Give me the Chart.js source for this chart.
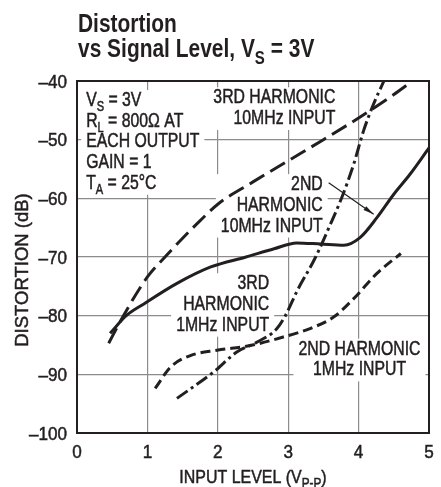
<!DOCTYPE html>
<html>
<head>
<meta charset="utf-8">
<script src="https://cdn.jsdelivr.net/npm/chart.js@4/dist/chart.umd.min.js"></script>
<style>
  html, body { margin: 0; padding: 0; background: #fff; }
  #wrap { width: 441px; height: 487px; }
</style>
</head>
<body>
<div id="wrap"><canvas id="myChart" width="441" height="487"></canvas></div>
<script>
// values: input level (Vp-p) vs distortion (dB)
const hd3_10M_x = [0.45, 0.66, 1, 1.25, 1.5, 1.75, 2, 2.5, 3, 3.5, 4, 4.5, 4.73];
const hd3_10M_y = [-84.7, -80, -73.4, -70, -66.8, -63.8, -61, -57.2, -53.6, -50, -46.3, -42.3, -40.3];

const hd2_10M_x = [0.47, 0.7, 0.95, 1.42, 1.9, 2.4, 2.8, 3.12, 3.46, 3.79, 4.02, 4.26, 4.5, 4.73, 5];
const hd2_10M_y = [-83, -80, -78, -74.5, -71.7, -70, -68.6, -67.6, -67.8, -68, -66.7, -63.3, -59.3, -55.9, -51.4];

const hd3_1M_x = [1.42, 1.94, 2.27, 2.56, 2.84, 2.96, 3.13, 3.39, 3.6, 3.76, 3.93, 4.07, 4.21, 4.36];
const hd3_1M_y = [-94.1, -89.6, -86.2, -84.5, -82.2, -80, -75.7, -70, -64.4, -59.9, -54.2, -48.5, -44, -40];

const hd2_1M_x = [1.11, 1.33, 1.61, 1.99, 2.46, 2.94, 3.31, 3.65, 3.93, 4.26, 4.6];
const hd2_1M_y = [-92.4, -88.75, -86.8, -85.9, -85.1, -83.6, -82.2, -80.2, -77.1, -72.8, -69.4];

const xTicks = [0, 1, 2, 3, 4, 5];
const yTicks = [-100, -90, -80, -70, -60, -50, -40];

function pts(xs, ys){
  let out = [];
  for (let i = 0; i < xs.length; i++) out.push({x: xs[i], y: ys[i]});
  return out;
}

const FONT = '"Liberation Sans", Arial, sans-serif';
const ink = '#231f20';

// text made of runs: [text, isSubscript]; sx squeezes it like a condensed face
function measureRuns(ctx, parts, o){
  const b = o.bold ? 'bold ' : '';
  let w = 0;
  for (const p of parts){
    ctx.font = b + (p[1] ? Math.round(o.size*0.72) : o.size) + 'px ' + FONT;
    w += ctx.measureText(p[0]).width;
  }
  return w * o.sx;
}
function drawRuns(ctx, parts, x, y, o){
  const b = o.bold ? 'bold ' : '';
  const w = measureRuns(ctx, parts, o);
  let start = x;
  if (o.align === 'right') start = x - w;
  if (o.align === 'center') start = x - w/2;
  ctx.save();
  ctx.translate(start, y);
  ctx.scale(o.sx, 1);
  ctx.textAlign = 'left';
  ctx.textBaseline = 'alphabetic';
  ctx.fillStyle = ink;
  ctx.strokeStyle = ink;
  ctx.lineWidth = 0.5;
  let cx = 0;
  for (const p of parts){
    ctx.font = b + (p[1] ? Math.round(o.size*0.72) : o.size) + 'px ' + FONT;
    const yy = p[1] ? o.size*0.26 : 0;
    ctx.fillText(p[0], cx, yy);
    if (!o.bold) ctx.strokeText(p[0], cx, yy); // a touch heavier, like the print
    cx += ctx.measureText(p[0]).width;
  }
  ctx.restore();
  return {left: start, width: w};
}

// annotation blocks, anchored in data coordinates (first baseline)
const notes = [
  {x: 0.13, y: -44.26, align: 'left', lines: [
    [['V'], ['S', 1], [' = 3V']],
    [['R'], ['L', 1], [' = 800Ω AT']],
    [['EACH OUTPUT']],
    [['GAIN = 1']],
    [['T'], ['A', 1], [' = 25°C']]
  ]},
  {x: 3.67, y: -43.8, align: 'right', lines: [[['3RD HARMONIC']], [['10MHz INPUT']]]},
  {x: 3.49, y: -58.6, align: 'right', lines: [[['2ND']], [['HARMONIC']], [['10MHz INPUT']]]},
  {x: 2.73, y: -75.5, align: 'right', lines: [[['3RD']], [['HARMONIC']], [['1MHz INPUT']]]},
  {x: 4.013, y: -86.65, align: 'center', lines: [[['2ND HARMONIC']], [['1MHz INPUT']]]}
];
const arrowFrom = {x: 3.575, y: -57.33};
const arrowTo = {x: 4.214, y: -62.72};

const noteStyle = {size: 20, sx: 0.79, align: 'left'};
const lineH = 20.7;

const textPlugin = {
  id: 'textPlugin',
  beforeDatasetsDraw(chart){
    const ctx = chart.ctx;
    const xs = chart.scales.x, ys = chart.scales.y;
    const a = chart.chartArea;
    ctx.save();
    // white boxes hide the grid behind each text block
    for (const n of notes){
      const px = xs.getPixelForValue(n.x);
      const py = ys.getPixelForValue(n.y);
      const o = Object.assign({}, noteStyle, {align: n.align});
      let l = 1e9, r = -1e9;
      n.lines.forEach(ln => {
        const w = measureRuns(ctx, ln, o);
        let s = px;
        if (n.align === 'right') s = px - w;
        if (n.align === 'center') s = px - w/2;
        l = Math.min(l, s); r = Math.max(r, s + w);
      });
      ctx.fillStyle = '#fff';
      ctx.fillRect(l - 5, py - 16, r - l + 10, (n.lines.length - 1)*lineH + 22);
      n.lines.forEach((ln, i) => drawRuns(ctx, ln, px, py + i*lineH, o));
    }
    // outer frame
    ctx.strokeStyle = ink;
    ctx.lineWidth = 2;
    ctx.strokeRect(a.left, a.top, a.right - a.left, a.bottom - a.top);

    // arrow to 2nd harmonic 10MHz curve
    const x1 = xs.getPixelForValue(arrowFrom.x), y1 = ys.getPixelForValue(arrowFrom.y);
    const x2 = xs.getPixelForValue(arrowTo.x), y2 = ys.getPixelForValue(arrowTo.y);
    ctx.lineWidth = 1.2;
    ctx.beginPath(); ctx.moveTo(x1, y1); ctx.lineTo(x2, y2); ctx.stroke();
    const ang = Math.atan2(y2 - y1, x2 - x1);
    ctx.fillStyle = ink;
    ctx.beginPath();
    ctx.moveTo(x2, y2);
    ctx.lineTo(x2 - 11*Math.cos(ang - 0.22), y2 - 11*Math.sin(ang - 0.22));
    ctx.lineTo(x2 - 11*Math.cos(ang + 0.22), y2 - 11*Math.sin(ang + 0.22));
    ctx.closePath(); ctx.fill();

    // tick labels
    const tick = {size: 18, sx: 0.95};
    for (const v of yTicks){
      const py = ys.getPixelForValue(v);
      drawRuns(ctx, [[(v < 0 ? '\u2013' + Math.abs(v) : '' + v)]], 67, py + 6.5, Object.assign({align: 'right'}, tick));
    }
    for (const v of xTicks){
      const px = xs.getPixelForValue(v);
      drawRuns(ctx, [['' + v]], px, 458, Object.assign({align: 'center'}, tick));
    }

    // titles
    const title = {size: 26.5, sx: 0.79, bold: true, align: 'left'};
    drawRuns(ctx, [['Distortion']], 78, 32, title);
    drawRuns(ctx, [['vs Signal Level, V'], ['S', 1], [' = 3V']], 78, 57, title);
    const cx = (a.left + a.right) / 2;
    drawRuns(ctx, [['INPUT LEVEL (V'], ['P-P', 1], [')']], cx, 483, {size: 19, sx: 0.84, align: 'center'});
    ctx.translate(28, 270);
    ctx.rotate(-Math.PI / 2);
    drawRuns(ctx, [['DISTORTION (dB)']], 0, 0, {size: 18.5, sx: 1, align: 'center'});
    ctx.restore();
  }
};

const data = {
  datasets: [
    {label: '3RD HARMONIC 10MHz', data: pts(hd3_10M_x, hd3_10M_y), borderDash: [17, 7]},
    {label: '2ND HARMONIC 10MHz', data: pts(hd2_10M_x, hd2_10M_y), borderDash: []},
    {label: '3RD HARMONIC 1MHz', data: pts(hd3_1M_x, hd3_1M_y), borderDash: [13, 4, 3, 4]},
    {label: '2ND HARMONIC 1MHz', data: pts(hd2_1M_x, hd2_1M_y), borderDash: [10, 5]}
  ].map(d => Object.assign(d, {
    borderColor: ink, borderWidth: 3, pointRadius: 0, fill: false,
    cubicInterpolationMode: 'monotone', borderCapStyle: 'butt'
  }))
};

const config = {
  type: 'line',
  data: data,
  options: {
    responsive: false,
    animation: false,
    layout: {padding: {top: 81, right: 12, left: 0, bottom: 0}},
    plugins: {legend: {display: false}, tooltip: {enabled: false}},
    scales: {
      x: {
        type: 'linear', min: 0, max: 5,
        afterFit: s => { s.height = 54; },
        afterBuildTicks: s => { s.ticks = xTicks.map(v => ({value: v})); },
        grid: {color: '#8c8c8c', lineWidth: 1.2, drawTicks: false},
        border: {color: ink, width: 2},
        ticks: {display: false}
      },
      y: {
        type: 'linear', min: -100, max: -40,
        afterFit: s => { s.width = 77; },
        afterBuildTicks: s => { s.ticks = yTicks.map(v => ({value: v})); },
        grid: {color: '#8c8c8c', lineWidth: 1.2, drawTicks: false},
        border: {color: ink, width: 2},
        ticks: {display: false}
      }
    }
  },
  plugins: [textPlugin]
};

new Chart(document.getElementById('myChart'), config);
</script>
</body>
</html>
